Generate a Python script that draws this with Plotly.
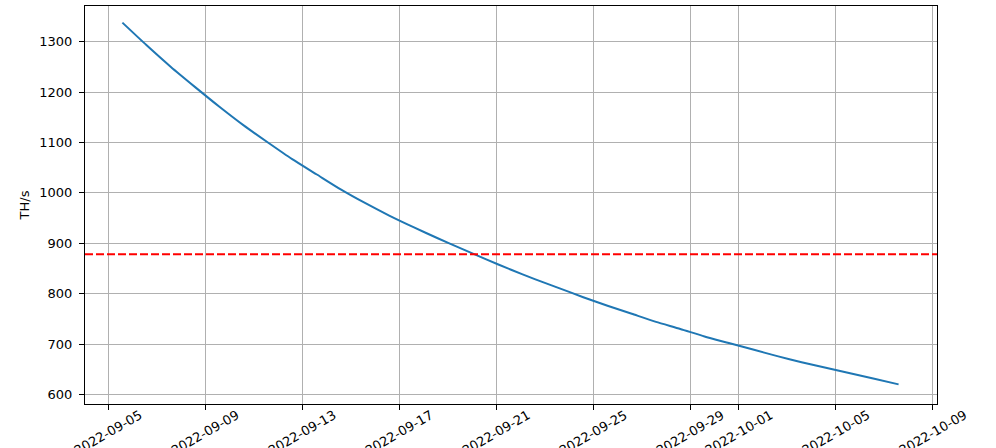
import plotly.graph_objects as go

# ---- data ----
dates = [
    "2022-09-05 14:00", "2022-09-06 14:00", "2022-09-07 14:00", "2022-09-08 14:00",
    "2022-09-09 14:00", "2022-09-10 14:00", "2022-09-11 14:00", "2022-09-12 14:00",
    "2022-09-13 14:00", "2022-09-14 14:00", "2022-09-15 14:00", "2022-09-16 14:00",
    "2022-09-17 14:00", "2022-09-18 14:00", "2022-09-19 14:00", "2022-09-20 14:00",
    "2022-09-21 14:00", "2022-09-22 14:00", "2022-09-23 14:00", "2022-09-24 14:00",
    "2022-09-25 14:00", "2022-09-26 14:00", "2022-09-27 14:00", "2022-09-28 14:00",
    "2022-09-29 14:00", "2022-09-30 14:00", "2022-10-01 14:00", "2022-10-02 14:00",
    "2022-10-03 14:00", "2022-10-04 14:00", "2022-10-05 14:00", "2022-10-06 14:00",
    "2022-10-07 14:00",
]
hashrate = [
    1338, 1293, 1250, 1210, 1171, 1134, 1100, 1067, 1037, 1007, 980, 955,
    932, 910, 889, 868, 848, 829, 811, 793, 776, 760, 744, 730,
    715, 702, 689, 676, 664, 653, 642, 631, 620,
]
threshold = 878
x_ticks = ["2022-09-05", "2022-09-09", "2022-09-13", "2022-09-17", "2022-09-21",
           "2022-09-25", "2022-09-29", "2022-10-01", "2022-10-05", "2022-10-09"]
y_ticks = [600, 700, 800, 900, 1000, 1100, 1200, 1300]
y_title = "TH/s"

FONT = dict(family="DejaVu Sans", size=13, color="black")

fig = go.Figure()
fig.add_trace(go.Scatter(x=dates, y=hashrate, mode="lines",
                         line=dict(color="#1f77b4", width=2, shape="spline", smoothing=0.6),
                         showlegend=False))

fig.add_shape(type="line", xref="paper", x0=0, x1=1, yref="y", y0=threshold, y1=threshold,
              line=dict(color="red", width=2, dash="8px,3px"))

for t in x_ticks:
    fig.add_annotation(x=t, xref="x", y=0, yref="paper", text=t, showarrow=False,
                       textangle=-30, xanchor="center", yanchor="middle",
                       yshift=-28, font=FONT)

fig.update_layout(
    width=996, height=448,
    margin=dict(l=85, r=59, t=6, b=44),
    paper_bgcolor="white", plot_bgcolor="white",
    font=FONT,
    xaxis=dict(
        type="date",
        range=["2022-09-04 01:00", "2022-10-09 04:00"],
        tickvals=x_ticks, showticklabels=False,
        ticks="outside", ticklen=5, tickwidth=1, tickcolor="black",
        showgrid=True, gridcolor="#b0b0b0", gridwidth=1,
        showline=True, linecolor="black", linewidth=1, mirror=True,
        zeroline=False,
    ),
    yaxis=dict(
        range=[581, 1371],
        tickvals=y_ticks,
        ticks="outside", ticklen=5, tickwidth=1, tickcolor="black",
        ticklabelstandoff=4,
        showgrid=True, gridcolor="#b0b0b0", gridwidth=1,
        showline=True, linecolor="black", linewidth=1, mirror=True,
        zeroline=False,
        title=dict(text=y_title, standoff=6, font=FONT),
    ),
)

fig.write_html("out.html",
               config={"displayModeBar": False},
               post_script="document.body.style.margin='0';document.body.style.overflow='hidden';")
